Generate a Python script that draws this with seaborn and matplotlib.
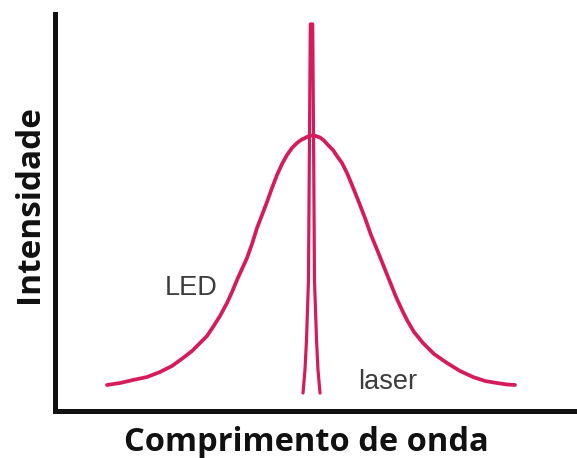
import matplotlib
matplotlib.use("Agg")
import matplotlib.pyplot as plt
import pandas as pd
import seaborn as sns

# Spectral profiles (arbitrary units): wavelength position vs. intensity
led_wavelength = [9.96, 12.45, 14.94, 17.62, 20.11, 22.41, 24.52, 26.25, 27.78,
                  29.12, 30.27, 31.61, 32.95, 33.91, 34.87, 35.82, 36.78, 37.74,
                  38.70, 39.66, 40.61, 41.57, 42.53, 43.49, 44.44, 45.40, 46.36,
                  47.13, 47.89, 48.66, 49.23, 50.00, 50.77, 51.53, 52.30, 53.26,
                  54.02, 54.98, 55.94, 56.90, 58.05, 59.39, 60.54, 61.88, 63.03,
                  64.18, 65.33, 66.48, 67.43, 68.77, 70.50, 72.61, 75.10, 77.59,
                  80.08, 82.38, 84.67, 86.59, 88.12]
led_intensity = [6.55, 7.05, 7.81, 8.56, 9.82, 11.34, 13.35, 15.11, 17.13,
                 18.89, 21.16, 23.93, 27.20, 29.97, 33.00, 35.77, 38.54, 42.07,
                 46.10, 49.37, 52.64, 56.17, 59.45, 62.22, 64.48, 66.25, 67.51,
                 68.26, 68.77, 69.27, 69.40, 69.27, 68.89, 68.14, 67.00, 65.74,
                 64.23, 62.47, 59.95, 56.93, 53.15, 48.61, 44.33, 40.05, 36.27,
                 32.49, 28.72, 25.44, 22.92, 19.90, 17.13, 14.36, 12.09, 10.08,
                 8.56, 7.56, 7.05, 6.68, 6.55]

laser_wavelength = [47.51, 47.89, 48.18, 48.56, 48.72, 48.91, 49.37, 49.56,
                    49.71, 50.10, 50.38, 50.77]
laser_intensity = [4.53, 10.33, 17.88, 33.00, 63.22, 97.48, 97.48, 63.22,
                   33.00, 17.88, 10.33, 4.53]

labels = {"led": "LED", "laser": "laser"}
x_title = "Comprimento de onda"
y_title = "Intensidade"

sns.set_theme(style="white")
plt.rcParams["font.family"] = ["Liberation Sans", "DejaVu Sans"]

line_color = "#d41c5c"

fig = plt.figure(figsize=(5.77, 4.58), dpi=100)
ax = fig.add_axes([55 / 577, 47 / 458, 522 / 577, 397 / 458])

led_df = pd.DataFrame({"wavelength": led_wavelength, "intensity": led_intensity})
laser_df = pd.DataFrame({"wavelength": laser_wavelength, "intensity": laser_intensity})

sns.lineplot(data=led_df, x="wavelength", y="intensity", sort=False,
             estimator=None, color=line_color, linewidth=2.7, ax=ax,
             solid_capstyle="round", solid_joinstyle="round")
sns.lineplot(data=laser_df, x="wavelength", y="intensity", sort=False,
             estimator=None, color=line_color, linewidth=2.3, ax=ax,
             solid_capstyle="round", solid_joinstyle="round")

ax.set_xlim(0, 100)
ax.set_ylim(0, 100)
ax.set_xticks([])
ax.set_yticks([])

sns.despine(ax=ax)
for side in ("left", "bottom"):
    ax.spines[side].set_color("#111111")
    ax.spines[side].set_linewidth(3.6)

ax.text(26.0, 31.0, labels["led"], fontsize=19.5, color="#3c3c3c",
        ha="center", va="center")
ax.text(63.8, 7.2, labels["laser"], fontsize=19.5, color="#3c3c3c",
        ha="center", va="center")

ax.set_xlabel(x_title, fontsize=23.5, fontweight="bold", family="Open Sans",
              color="#111111")
ax.set_ylabel(y_title, fontsize=24, fontweight="bold", family="Open Sans",
              color="#111111")
ax.xaxis.set_label_coords(0.482, -0.037)
ax.yaxis.set_label_coords(-0.018, 0.52)

fig.savefig("out.png", dpi=100, facecolor="white")
